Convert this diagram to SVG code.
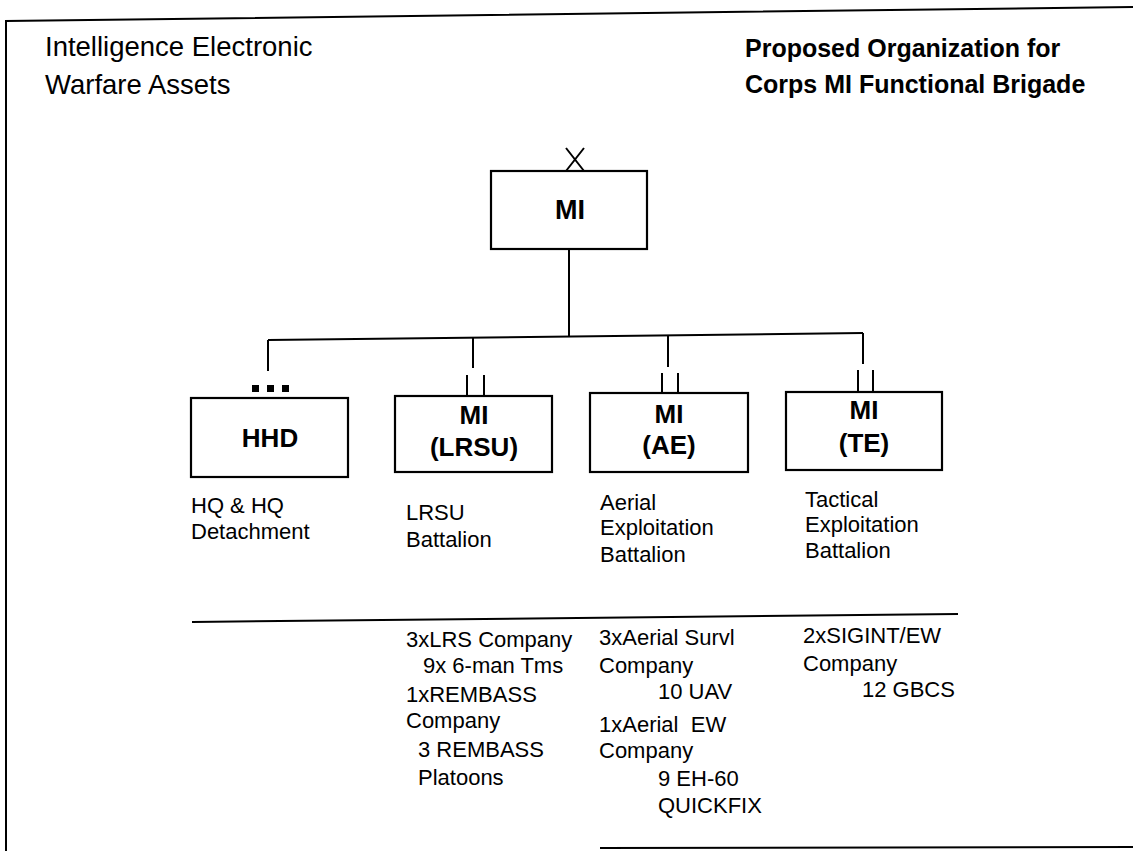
<svg xmlns="http://www.w3.org/2000/svg" width="1133" height="851" viewBox="0 0 1133 851">
<style>
.t{font-family:"Liberation Sans",Arial,sans-serif;fill:#000}
.title{font-size:27.5px}
.head{font-size:25px;font-weight:bold}
.box{fill:#fff;stroke:#000;stroke-width:2.2}
.bl{font-size:26px;font-weight:bold;text-anchor:middle}
.lab{font-size:22px}
.ln{stroke:#000;stroke-width:2;fill:none}
</style>
<rect width="1133" height="851" fill="#fff"/>
<g id="frame">
<path class="ln" d="M6,851 L6,21 L1133,7"/>
<path class="ln" d="M600,848 L1133,847"/>
</g>
<g id="titles">
<text class="t title" x="45" y="56">Intelligence Electronic</text>
<text class="t title" x="45" y="94">Warfare Assets</text>
<text class="t head" x="745" y="57">Proposed Organization for</text>
<text class="t head" x="745" y="93">Corps MI Functional Brigade</text>
</g>
<g id="connectors">
<path class="ln" d="M569,249 L569,337"/>
<path class="ln" d="M268,340 L863,333"/>
<path class="ln" d="M268,340 L268,371"/>
<path class="ln" d="M473,338 L473,368"/>
<path class="ln" d="M668,336 L668,367"/>
<path class="ln" d="M863,333 L863,364"/>
<path class="ln" d="M192,622 L958,614"/>
</g>
<g id="node-mi">
<rect class="box" x="491" y="171" width="156" height="78"/>
<path class="ln" d="M566,148 L584,171 M584,148 L566,171"/>
<text class="t bl" x="570" y="219" style="font-size:27px">MI</text>
</g>
<g id="node-hhd">
<rect class="box" x="191" y="398" width="157" height="79"/>
<rect x="252" y="385" width="7" height="7" fill="#000"/>
<rect x="267" y="385" width="7" height="7" fill="#000"/>
<rect x="282" y="385" width="7" height="7" fill="#000"/>
<text class="t bl" x="270" y="447">HHD</text>
<text class="t lab" x="191" y="513">HQ &amp; HQ</text>
<text class="t lab" x="191" y="539">Detachment</text>
</g>
<g id="node-lrsu">
<rect class="box" x="395" y="396" width="157" height="76"/>
<path class="ln" d="M467,375 L467,396 M484,375 L484,396"/>
<text class="t bl" x="474" y="424">MI</text>
<text class="t bl" x="474" y="456">(LRSU)</text>
<text class="t lab" x="406" y="520">LRSU</text>
<text class="t lab" x="406" y="547">Battalion</text>
<text class="t lab" x="406" y="647">3xLRS Company</text>
<text class="t lab" x="423" y="673">9x 6-man Tms</text>
<text class="t lab" x="406" y="702">1xREMBASS</text>
<text class="t lab" x="406" y="728">Company</text>
<text class="t lab" x="418" y="757">3 REMBASS</text>
<text class="t lab" x="418" y="785">Platoons</text>
</g>
<g id="node-ae">
<rect class="box" x="590" y="393" width="158" height="79"/>
<path class="ln" d="M662,373 L662,393 M678,373 L678,393"/>
<text class="t bl" x="669" y="423">MI</text>
<text class="t bl" x="669" y="454">(AE)</text>
<text class="t lab" x="600" y="510">Aerial</text>
<text class="t lab" x="600" y="535">Exploitation</text>
<text class="t lab" x="600" y="562">Battalion</text>
<text class="t lab" x="599" y="645">3xAerial Survl</text>
<text class="t lab" x="599" y="673">Company</text>
<text class="t lab" x="658" y="699">10 UAV</text>
<text class="t lab" x="599" y="732" xml:space="preserve">1xAerial  EW</text>
<text class="t lab" x="599" y="758">Company</text>
<text class="t lab" x="658" y="786">9 EH-60</text>
<text class="t lab" x="658" y="813">QUICKFIX</text>
</g>
<g id="node-te">
<rect class="box" x="786" y="392" width="156" height="78"/>
<path class="ln" d="M858,370 L858,392 M873,370 L873,392"/>
<text class="t bl" x="864" y="419">MI</text>
<text class="t bl" x="864" y="452">(TE)</text>
<text class="t lab" x="805" y="507">Tactical</text>
<text class="t lab" x="805" y="532">Exploitation</text>
<text class="t lab" x="805" y="558">Battalion</text>
<text class="t lab" x="803" y="643">2xSIGINT/EW</text>
<text class="t lab" x="803" y="671">Company</text>
<text class="t lab" x="862" y="697">12 GBCS</text>
</g>
</svg>
